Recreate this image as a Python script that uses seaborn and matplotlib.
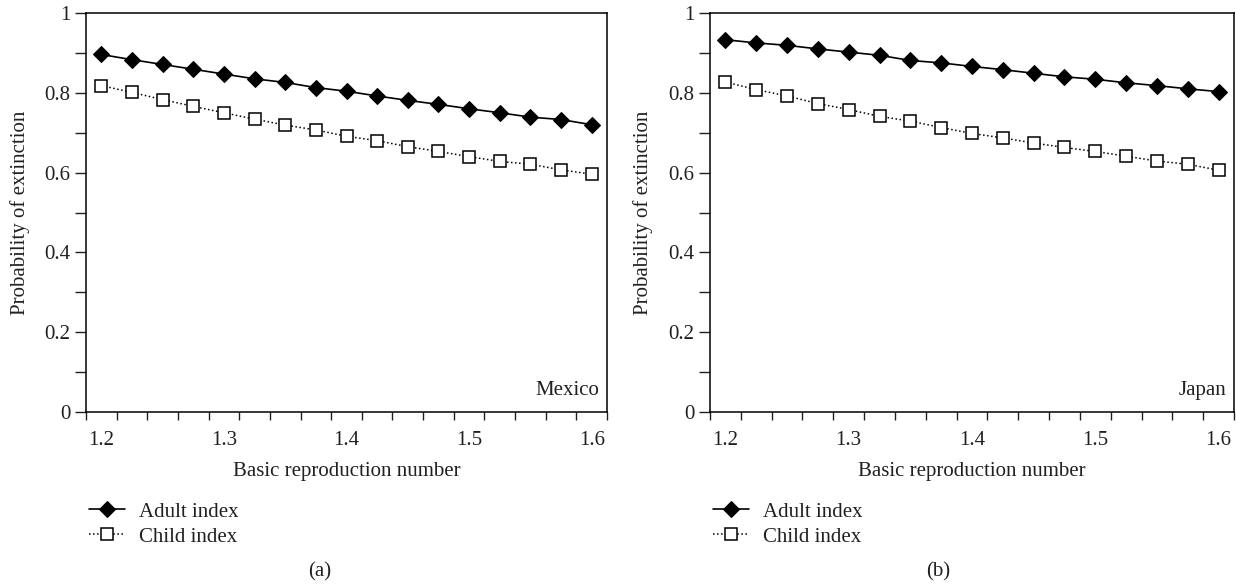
import seaborn as sns
import matplotlib.pyplot as plt
import matplotlib.ticker as mticker

r0 = [1.2, 1.225, 1.25, 1.275, 1.3, 1.325, 1.35, 1.375, 1.4,
      1.425, 1.45, 1.475, 1.5, 1.525, 1.55, 1.575, 1.6]

mexico_adult = [0.896, 0.883, 0.871, 0.859, 0.847, 0.835, 0.826, 0.813, 0.804,
                0.792, 0.781, 0.771, 0.760, 0.750, 0.739, 0.733, 0.720]
mexico_child = [0.818, 0.801, 0.783, 0.766, 0.750, 0.734, 0.719, 0.707, 0.691,
                0.680, 0.665, 0.653, 0.640, 0.628, 0.621, 0.607, 0.596]

japan_adult = [0.933, 0.925, 0.919, 0.910, 0.902, 0.894, 0.881, 0.875, 0.866,
               0.858, 0.849, 0.840, 0.834, 0.825, 0.818, 0.810, 0.803]
japan_child = [0.827, 0.808, 0.792, 0.773, 0.758, 0.741, 0.729, 0.713, 0.698,
               0.687, 0.674, 0.663, 0.653, 0.641, 0.629, 0.621, 0.606]

panels = [
    ('Mexico', '(a)', mexico_adult, mexico_child),
    ('Japan', '(b)', japan_adult, japan_child),
]

text_color = '#231f20'
fs = 15

sns.set_theme(style='ticks')
plt.rcParams['font.family'] = ['Liberation Serif', 'DejaVu Serif']
plt.rcParams['font.size'] = fs
plt.rcParams['text.color'] = text_color
plt.rcParams['axes.labelcolor'] = text_color
plt.rcParams['xtick.color'] = text_color
plt.rcParams['ytick.color'] = text_color

fig = plt.figure(figsize=(12.36, 5.87), dpi=100)

axes_rects = [
    [86 / 1236, 1 - 412 / 587, 521 / 1236, 399 / 587],
    [710 / 1236, 1 - 412 / 587, 524 / 1236, 399 / 587],
]
sub_x = [320 / 1236, 938 / 1236]

for rect, sx, (country, tag, adult, child) in zip(axes_rects, sub_x, panels):
    ax = fig.add_axes(rect)
    sns.lineplot(x=r0, y=adult, ax=ax, color='black', linewidth=1.2,
                 marker='D', markersize=8.5, markerfacecolor='black',
                 markeredgecolor='black', label='Adult index')
    sns.lineplot(x=r0, y=child, ax=ax, color='black', linewidth=1.1,
                 linestyle=':', marker='s', markersize=8,
                 markerfacecolor='white', markeredgecolor='black',
                 markeredgewidth=1.1, label='Child index')

    ax.set_xlim(1.1875, 1.6125)
    ax.set_ylim(0, 1)
    ax.set_xticks([1.2, 1.3, 1.4, 1.5, 1.6])
    ax.set_xticks([1.1875 + 0.025 * k for k in range(18)], minor=True)
    ax.set_yticks([0, 0.2, 0.4, 0.6, 0.8, 1])
    ax.set_yticks([0.1, 0.3, 0.5, 0.7, 0.9], minor=True)
    ax.yaxis.set_major_formatter(mticker.FuncFormatter(lambda v, p: f'{v:g}'))
    ax.xaxis.set_major_formatter(mticker.FuncFormatter(lambda v, p: f'{v:g}'))

    ax.tick_params(axis='x', which='major', length=0, pad=14, labelsize=fs)
    ax.tick_params(axis='x', which='minor', length=6, width=1, direction='out')
    ax.tick_params(axis='y', which='both', length=8, width=1, direction='out',
                   labelsize=fs, pad=3)
    for s in ax.spines.values():
        s.set_visible(True)
        s.set_linewidth(1.1)
        s.set_color('black')

    ax.set_xlabel('Basic reproduction number', fontsize=fs, labelpad=8)
    ax.set_ylabel('Probability of extinction', fontsize=fs)
    ax.yaxis.set_label_coords(-0.108, 0.5)

    ax.text(0.985, 0.03, country, transform=ax.transAxes, ha='right',
            va='bottom', fontsize=fs)

    ax.legend(loc='upper left', bbox_to_anchor=(-0.01, -0.205), frameon=False,
              fontsize=fs, handlelength=1.7, handletextpad=0.7,
              labelspacing=0.25, borderaxespad=0)

    fig.text(sx, 1 - 572 / 587, tag, ha='center', va='center', fontsize=fs)

fig.savefig('out.png', dpi=100)
